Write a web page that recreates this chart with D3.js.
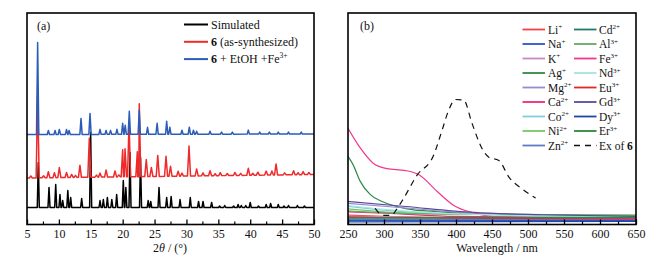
<!DOCTYPE html>
<html>
<head>
<meta charset="utf-8">
<script src="https://cdn.jsdelivr.net/npm/d3@7"></script>
<style>
  body { margin: 0; background: #fff; }
  svg { display: block; }
  text { font-family: "Liberation Serif", "Times New Roman", serif; fill: #111; }
</style>
</head>
<body>
<svg id="chart" width="671" height="262"></svg>
<script>
// ---- panel (a): XRD peaks, [2theta, height above baseline] ----
const simPeaks = [[6.77,45],[8.45,20],[9.5,23],[10.17,13],[10.6,7],[11.4,17],[11.85,10],[13.57,9],
  [14.98,75],[16.45,7],[16.97,8],[17.6,10],[18.3,8],[19.06,13],[20.1,27],[20.5,20],[21.15,55],
  [22.8,50],[24.0,7],[24.4,6],[25.7,20],[26.9,10],[27.6,11],[29.0,8],[30.6,10],[31.9,6],[32.6,6],
  [33.95,5],[35.2,1.5],[36.0,2],[37.4,1.5],[38.1,3],[38.6,2],[39.3,2],[40.0,5],[41.3,1.5],[42.5,3],
  [43.2,4],[44.4,3],[45.3,1.5],[46.0,2],[47.4,2],[48.5,1.5]];
const synPeaks = [[5.6,2],[6.67,82],[7.6,2],[8.35,6],[9.3,5],[10.07,10],[11.2,5],[12.0,3],[12.6,2],
  [13.3,12],[14.77,39],[15.9,2],[16.45,4],[17.4,7],[18.8,6],[19.4,2],[20.0,27],[20.37,28],[21.0,54],
  [22.3,25],[22.6,73],[23.7,17],[24.5,9],[25.5,21],[26.8,20],[27.5,10],[28.7,5],[29.3,3],[30.4,30],
  [31.6,7],[32.6,3],[33.7,5],[34.5,2],[35.3,3],[36.4,2],[37.6,3],[38.5,2],[39.7,7],[40.4,2],[41.2,3],
  [42.5,4],[43.4,4],[44.05,11],[45.4,2],[46.8,4],[47.5,2],[48.3,3],[49.2,2]];
const fePeaks = [[6.67,92],[8.35,4],[9.4,4],[10.07,5],[11.2,5],[11.6,4],[13.47,16],[14.88,21],
  [16.45,5],[17.4,4],[18.1,4],[19.1,5],[20.0,11],[20.4,9],[21.04,23],[22.6,24],[23.9,7],[25.4,11],
  [26.9,13],[27.4,7],[29.3,4],[30.45,7],[31.1,4],[31.6,3],[33.7,3],[35.5,2],[37.2,2],[39.7,4],
  [41.5,2],[43.0,2],[44.4,2],[46.0,2],[48.0,2]];
// baseline of each pattern at 5° and 50° (the red one drifts a little)
const xrdSeries = [
  { name: "Simulated", peaks: simPeaks, base: [17, 17], halfWidth: 0.16, color: "#000000" },
  { name: "as", peaks: synPeaks, base: [46.5, 50], halfWidth: 0.24, color: "#ee2a2a" },
  { name: "fe", peaks: fePeaks, base: [90, 90.5], halfWidth: 0.18, color: "#2a5cb8" }
];
const xrdTicks = d3.range(5, 51, 5);

// ---- panel (b): emission spectra, [nm, intensity] ----
const ions = [
  { label: "Li", sup: "+", color: "#f2404a", pts: [[250,4.4],[300,3.8],[450,3],[650,2.8]] },
  { label: "Na", sup: "+", color: "#2a54c4", pts: [[250,1.8],[650,1.8]] },
  { label: "K", sup: "+", color: "#c48ac8", pts: [[250,4],[400,3.2],[650,2.8]] },
  { label: "Ag", sup: "+", color: "#2f8a45", pts: [[250,32.2],[257,28.3],[267,20.4],[281,14.1],[299,10.6],[332,7.4],[369,6.2],[450,5],[650,4]] },
  { label: "Mg", sup: "2+", color: "#9a8ccc", pts: [[250,10],[330,7.8],[425,5.2],[650,3.4]] },
  { label: "Ca", sup: "2+", color: "#f0287a", pts: [[250,6],[300,5.4],[400,3.8],[650,3.2]] },
  { label: "Co", sup: "2+", color: "#7fd0dc", pts: [[250,8.6],[300,6.8],[400,5],[650,3.8]] },
  { label: "Ni", sup: "2+", color: "#78c466", pts: [[250,7.4],[300,6],[400,4.9],[650,4.3]] },
  { label: "Zn", sup: "2+", color: "#5c7cc4", pts: [[250,2.4],[650,2.4]] },
  { label: "Cd", sup: "2+", color: "#1f7a6a", pts: [[250,3.2],[650,3.2]] },
  { label: "Al", sup: "3+", color: "#64a868", pts: [[250,6.4],[350,5],[650,4.4]] },
  { label: "Fe", sup: "3+", color: "#f2388c", pts: [[250,45.5],[267,36.2],[285,29],[304,26.4],[330,25.5],[348,23.6],[374,15.6],[397,9],[425,5.4],[457,3.6],[520,3.2],[650,3]] },
  { label: "Nd", sup: "3+", color: "#a8e2e2", pts: [[250,9],[300,7.2],[400,5],[650,3.6]] },
  { label: "Eu", sup: "3+", color: "#e22a2a", pts: [[250,3.6],[300,3.2],[650,2.6]] },
  { label: "Gd", sup: "3+", color: "#5a4a9e", pts: [[250,10.9],[330,8.5],[425,5.7],[520,4.6],[650,3.8]] },
  { label: "Dy", sup: "3+", color: "#1f45a8", pts: [[250,1.2],[650,1.5]] },
  { label: "Er", sup: "3+", color: "#2a8a3a", pts: [[250,3],[650,3.4]] }
];
const exPoints = [[287.6,7.6],[299,4.3],[311,4.3],[315.5,6.2],[327,12.2],[345.7,23.2],[368.9,32.7],
  [380.6,44.5],[389.8,54],[399.1,59.1],[410.7,58.8],[422.4,47.7],[436.3,35.8],[445.6,31.8],
  [459.5,30.3],[473.5,22.4],[492,16.8],[510.6,12.5]];
const wlTicks = d3.range(250, 651, 50);

const svg = d3.select("#chart");
const BOTTOM = 224.5, TOP = 13;

function drawFrame(x0, x1, xScale, major, minor) {
  const g = svg.append("g").attr("transform", `translate(0,${BOTTOM})`);
  g.call(d3.axisBottom(xScale).tickValues(major).tickSize(-5).tickPadding(5)
    .tickFormat(d3.format("d")))
    .call((a) => a.select(".domain").remove());
  g.selectAll(".tick line").attr("stroke", "#000").attr("stroke-width", 1.3);
  g.selectAll(".tick text").attr("font-size", 12).attr("fill", "#111")
    .style("font-family", '"Liberation Serif", serif');
  const gm = svg.append("g").attr("transform", `translate(0,${BOTTOM})`);
  gm.call(d3.axisBottom(xScale).tickValues(minor).tickSize(-3).tickFormat(""))
    .call((a) => a.select(".domain").remove());
  gm.selectAll(".tick line").attr("stroke", "#000").attr("stroke-width", 1.2);
  svg.append("rect").attr("x", x0).attr("y", TOP).attr("width", x1 - x0)
    .attr("height", BOTTOM - TOP).attr("fill", "none").attr("stroke", "#000").attr("stroke-width", 1.6);
}

// ---------- panel (a) ----------
const xA = d3.scaleLinear().domain([5, 50]).range([27, 314]);
const yA = d3.scaleLinear().domain([0, BOTTOM - TOP]).range([BOTTOM, TOP]);

function peakVertices(s) {
  const v = [[5, 0]];
  s.peaks.forEach(([p, h]) => { v.push([p - s.halfWidth, 0], [p, h], [p + s.halfWidth, 0]); });
  v.push([50, 0]);
  return v.filter((d) => d[0] >= 5 && d[0] <= 50).sort((a, b) => a[0] - b[0]);
}

xrdSeries.forEach((s) => {
  const baseAt = d3.scaleLinear().domain([5, 50]).range(s.base);
  svg.append("path")
    .datum(peakVertices(s))
    .attr("d", d3.line().x((d) => xA(d[0])).y((d) => yA(d[1] + baseAt(d[0]))))
    .attr("fill", "none").attr("stroke", s.color).attr("stroke-width", 1.5)
    .attr("stroke-linejoin", "round");
});
drawFrame(27, 314, xA, xrdTicks, d3.range(7.5, 50, 5));

svg.append("text").attr("x", 37).attr("y", 30).attr("font-size", 12).text("(a)");
const legA = [
  { color: "#000000", parts: [["Simulated", false]] },
  { color: "#ee2a2a", parts: [["6", true], [" (as-synthesized)", false]] },
  { color: "#2a5cb8", parts: [["6", true], [" + EtOH +Fe", false]], sup: "3+" }
];
legA.forEach((d, i) => {
  const y = 24.5 + i * 17.3;
  svg.append("line").attr("x1", 184).attr("x2", 208).attr("y1", y).attr("y2", y)
    .attr("stroke", d.color).attr("stroke-width", 2);
  const t = svg.append("text").attr("x", 211).attr("y", y + 4).attr("font-size", 12);
  d.parts.forEach(([txt, bold]) => t.append("tspan").attr("font-weight", bold ? "bold" : null).text(txt));
  if (d.sup) t.append("tspan").attr("dy", -5).attr("font-size", 7.5).text(d.sup);
});
svg.append("text").attr("x", 170).attr("y", 252).attr("text-anchor", "middle").attr("font-size", 12)
  .call((t) => {
    t.append("tspan").text("2");
    t.append("tspan").attr("font-style", "italic").text("θ");
    t.append("tspan").text(" / (°)");
  });

// ---------- panel (b) ----------
const xB = d3.scaleLinear().domain([250, 650]).range([348, 636]);
const yB = d3.scaleLinear().domain([0, 100]).range([BOTTOM, TOP]);
const lineB = d3.line().x((d) => xB(d[0])).y((d) => yB(d[1])).curve(d3.curveMonotoneX);

svg.append("clipPath").attr("id", "clipB").append("rect")
  .attr("x", 348).attr("y", TOP).attr("width", 288).attr("height", BOTTOM - TOP);
const gB = svg.append("g").attr("clip-path", "url(#clipB)");
ions.forEach((d) => {
  gB.append("path").datum(d.pts).attr("d", lineB)
    .attr("fill", "none").attr("stroke", d.color).attr("stroke-width", 1.2);
});
gB.append("path").datum(exPoints).attr("d", lineB)
  .attr("fill", "none").attr("stroke", "#111").attr("stroke-width", 1.2)
  .attr("stroke-dasharray", "6,5");
drawFrame(348, 636, xB, wlTicks, d3.range(275, 650, 50));

svg.append("text").attr("x", 360).attr("y", 30).attr("font-size", 12).text("(b)");
const legB = ions.map((d) => ({ ...d, dashed: false })).concat([{ label: "Ex of ", bold: "6", color: "#111", dashed: true }]);
legB.forEach((d, i) => {
  const col = Math.floor(i / 9), row = i % 9;
  const lx = col === 0 ? 522.5 : 574, tx = col === 0 ? 548 : 599;
  const y = 29.5 + row * 14.5;
  svg.append("line").attr("x1", lx).attr("x2", lx + 22.5).attr("y1", y).attr("y2", y)
    .attr("stroke", d.color).attr("stroke-width", d.dashed ? 1.4 : 1.8)
    .attr("stroke-dasharray", d.dashed ? "6,5" : null);
  const t = svg.append("text").attr("x", tx).attr("y", y + 4).attr("font-size", 11.5);
  t.append("tspan").text(d.label);
  if (d.sup) t.append("tspan").attr("dy", -4.5).attr("font-size", 7).text(d.sup);
  if (d.bold) t.append("tspan").attr("font-weight", "bold").text(d.bold);
});
svg.append("text").attr("x", 497).attr("y", 252).attr("text-anchor", "middle").attr("font-size", 12)
  .text("Wavelength / nm");
</script>
</body>
</html>
